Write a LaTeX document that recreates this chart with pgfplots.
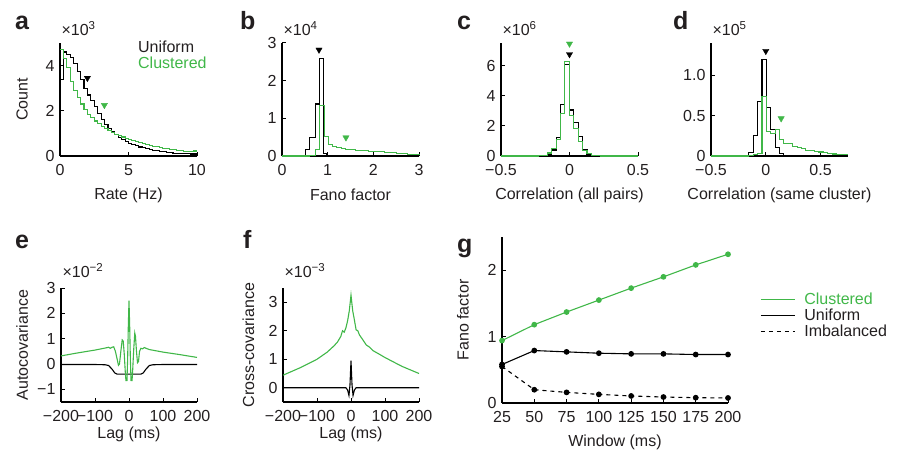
\documentclass[border=0pt]{standalone}
\usepackage{pgfplots}
\pgfplotsset{compat=1.18}
\usepackage{fontspec}
\setmainfont{Liberation Sans}
\definecolor{cgreen}{RGB}{64,183,72}
\definecolor{txt}{RGB}{35,31,32}
\newcommand{\fs}{\fontsize{16}{19}\selectfont}
\newcommand{\lett}{\fontsize{25}{29}\selectfont\bfseries}

\pgfplotsset{
  panel/.style={
    scale only axis, enlargelimits=false, clip=false,
    axis x line=bottom, axis y line=left,
    axis line style={-, line width=1.2pt, black},
    tick align=inside, major tick length=4pt,
    tick style={line width=1pt, black},
    tick label style={font=\fs, text=txt},
    xticklabel style={yshift=-5pt},
    yticklabel style={xshift=-2pt},
    label style={font=\fs, text=txt},
    /pgf/number format/assume math mode=true,
    scaled ticks=false,
    xlabel style={anchor=center},
    ylabel style={anchor=center},
  },
  toprow/.style={panel, width=137pt, height=113pt,
    xlabel style={at={(axis description cs:0.5,-0.345)}}},
  hist/.style={const plot mark left, line width=1.1pt},
  tri/.style={only marks, mark=triangle*, mark size=3.6pt, mark options={rotate=180}},
}
\newcommand{\xten}[2]{\node[anchor=base west, font=\fs, text=txt, inner sep=0pt] at (rel axis cs:0.01,#2) {×10\raisebox{0.42em}{\fontsize{11.5}{12}\selectfont #1}};}

\begin{document}
\begin{tikzpicture}
\path[use as bounding box] (0pt,0pt) rectangle (904pt,456pt);

% panel letters
\node[anchor=base west, inner sep=0pt, font=\lett, text=txt] at (15pt,426pt) {a};
\node[anchor=base west, inner sep=0pt, font=\lett, text=txt] at (240pt,426pt) {b};
\node[anchor=base west, inner sep=0pt, font=\lett, text=txt] at (457pt,426pt) {c};
\node[anchor=base west, inner sep=0pt, font=\lett, text=txt] at (673pt,426pt) {d};
\node[anchor=base west, inner sep=0pt, font=\lett, text=txt] at (15pt,208pt) {e};
\node[anchor=base west, inner sep=0pt, font=\lett, text=txt] at (243pt,208pt) {f};
\node[anchor=base west, inner sep=0pt, font=\lett, text=txt] at (457pt,204pt) {g};

% ---- a: rate
\begin{axis}[toprow, at={(60pt,300pt)},
  xmin=0, xmax=10, ymin=0, ymax=5, xtick={0,5,10}, ytick={0,2,4},
  xlabel={Rate (Hz)}, ylabel={Count},
  ylabel style={at={(axis description cs:-0.277,0.5)}}]
\addplot[hist, black] coordinates {
(0,3.4)(0.25,4.6)(0.5,4.5)(0.75,4.35)(1,4.1)(1.25,3.75)(1.5,3.4)(1.75,3.0)(2,2.7)(2.25,2.45)(2.5,2.2)(2.75,1.9)(3,1.6)(3.25,1.4)(3.5,1.22)(3.75,1.07)(4,0.94)(4.25,0.83)(4.5,0.73)(4.75,0.64)(5,0.56)(5.25,0.5)(5.5,0.45)(5.75,0.4)(6,0.36)(6.25,0.32)(6.5,0.29)(6.75,0.26)(7,0.23)(7.25,0.2)(7.5,0.18)(7.75,0.16)(8,0.15)(8.25,0.13)(8.5,0.12)(8.75,0.11)(9,0.1)(9.25,0.1)(9.5,0.09)(9.75,0.09)(10,0.09)};
\addplot[hist, cgreen] coordinates {
(0,4.7)(0.25,4.3)(0.5,3.9)(0.75,3.3)(1,2.9)(1.25,2.6)(1.5,2.3)(1.75,2.05)(2,1.85)(2.25,1.7)(2.5,1.55)(2.75,1.42)(3,1.3)(3.25,1.2)(3.5,1.12)(3.75,1.04)(4,0.97)(4.25,0.9)(4.5,0.84)(4.75,0.78)(5,0.72)(5.25,0.67)(5.5,0.63)(5.75,0.59)(6,0.55)(6.25,0.51)(6.5,0.48)(6.75,0.44)(7,0.41)(7.25,0.38)(7.5,0.35)(7.75,0.32)(8,0.3)(8.25,0.27)(8.5,0.25)(8.75,0.23)(9,0.21)(9.25,0.2)(9.5,0.18)(9.75,0.22)(10,0.22)};
\addplot[tri, black] coordinates {(2.0,3.45)};
\addplot[tri, cgreen] coordinates {(3.24,2.25)};
\xten{3}{1.062}
\node[anchor=base west, font=\fs, text=txt, inner sep=0pt] at (rel axis cs:0.569,0.912) {Uniform};
\node[anchor=base west, font=\fs, text=cgreen, inner sep=0pt] at (rel axis cs:0.569,0.77) {Clustered};
\end{axis}

% ---- b: Fano factor histogram
\begin{axis}[toprow, at={(282pt,300pt)},
  xmin=0, xmax=3, ymin=0, ymax=3, xtick={0,1,2,3}, ytick={0,1,2,3},
  xlabel={Fano factor}]
\addplot[hist, black] coordinates {
(0,0)(0.4,0.02)(0.51,0.17)(0.6,0.5)(0.726,1.38)(0.82,2.6)(0.908,0.06)(0.966,0)(3,0)};
\addplot[hist, cgreen] coordinates {
(0,0)(0.6,0.02)(0.726,0.17)(0.82,1.33)(0.922,0.52)(1.017,0.3)(1.1,0.25)(1.2,0.22)(1.3,0.2)(1.4,0.18)(1.5,0.17)(1.6,0.15)(1.75,0.14)(1.9,0.12)(2.0,0.11)(2.25,0.09)(2.5,0.07)(2.75,0.05)(3.0,0.04)};
\addplot[tri, black] coordinates {(0.81,2.82)};
\addplot[tri, cgreen] coordinates {(1.4,0.49)};
\xten{4}{1.062}
\end{axis}

% ---- c: correlation, all pairs
\begin{axis}[toprow, at={(501pt,300pt)},
  xmin=-0.5, xmax=0.5, ymin=0, ymax=7.5, xtick={-0.5,0,0.5}, xticklabels={−0.5,0,0.5},
  ytick={0,2,4,6},
  xlabel={Correlation (all pairs)}]
\addplot[hist, black] coordinates {
(-0.5,0)(-0.194,0.02)(-0.162,0.1)(-0.13,0.4)(-0.098,1.2)(-0.066,3.4)(-0.034,6.05)(0,3.05)(0.032,2.2)(0.064,1.3)(0.096,0.4)(0.128,0.1)(0.16,0.02)(0.192,0)(0.5,0)};
\addplot[hist, cgreen] coordinates {
(-0.5,0)(-0.226,0.02)(-0.194,0.05)(-0.162,0.2)(-0.13,0.5)(-0.098,1.1)(-0.066,2.8)(-0.034,6.25)(0,2.7)(0.032,1.85)(0.064,0.95)(0.096,0.35)(0.128,0.15)(0.16,0.06)(0.192,0.02)(0.224,0)(0.5,0)};
\addplot[tri, cgreen] coordinates {(0,7.45)};
\addplot[tri, black] coordinates {(0,6.75)};
\xten{6}{1.062}
\end{axis}

% ---- d: correlation, same cluster
\begin{axis}[toprow, at={(711pt,300pt)},
  xmin=-0.5, xmax=0.75, ymin=0, ymax=1.4, xtick={-0.5,0,0.5}, xticklabels={−0.5,0,0.5},
  ytick={0,0.5,1}, yticklabels={0,0.5,1.0},
  xlabel={Correlation (same cluster)}]
\addplot[hist, black] coordinates {
(-0.5,0)(-0.155,0.04)(-0.115,0.25)(-0.075,0.67)(-0.035,1.2)(0.005,0.6)(0.045,0.33)(0.085,0.11)(0.125,0.03)(0.165,0.01)(0.205,0)(0.75,0)};
\addplot[hist, cgreen] coordinates {
(-0.5,0)(-0.155,0.005)(-0.115,0.015)(-0.075,0.03)(-0.035,0.74)(0.005,0.3)(0.045,0.28)(0.085,0.33)(0.125,0.2)(0.165,0.16)(0.205,0.15)(0.245,0.12)(0.285,0.1)(0.325,0.09)(0.365,0.07)(0.405,0.065)(0.445,0.055)(0.485,0.05)(0.525,0.04)(0.565,0.035)(0.605,0.025)(0.645,0.02)(0.685,0.015)(0.75,0.015)};
\addplot[tri, black] coordinates {(0,1.3)};
\addplot[tri, cgreen] coordinates {(0.14,0.465)};
\xten{5}{1.062}
\end{axis}

% ---- e: autocovariance
\begin{axis}[panel, width=136pt, height=114pt, at={(61pt,54pt)},
  xmin=-200, xmax=200, ymin=-1.5, ymax=3,
  xtick={-200,-100,0,100,200}, xticklabels={−200,−100,0,100,200},
  ytick={-1,0,1,2,3}, yticklabels={−1,0,1,2,3},
  xlabel={Lag (ms)}, ylabel={Autocovariance},
  xlabel style={at={(axis description cs:0.5,-0.28)}},
  ylabel style={at={(axis description cs:-0.285,0.5)}}]
\addplot[black, line width=1.1pt] coordinates {
(-200,-0.02)(-100,-0.02)(-70,-0.03)(-60,-0.06)(-50,-0.2)(-42,-0.35)(-35,-0.4)(-20,-0.4)(0,-0.4)(20,-0.4)(35,-0.4)(42,-0.35)(50,-0.2)(60,-0.06)(70,-0.03)(100,-0.02)(200,-0.02)};
\addplot[cgreen, line width=1.1pt] coordinates {
(-200,0.32)(-150,0.44)(-100,0.55)(-70,0.63)(-60,0.66)(-55,0.62)(-50,0.66)(-45,0.68)(-40,0.5)(-35,0.2)(-31,-0.05)(-28,0.0)(-24,0.5)(-20,0.95)(-17,0.9)(-14,0.4)(-11,-0.3)(-9,-0.65)(-6,-0.65)(-4,0.2)(-2,1.5)(0,2.5)(2,1.5)(4,0.2)(6,-0.65)(9,-0.65)(11,-0.2)(14,0.6)(17,1.22)(19,1.1)(22,0.5)(25,0.05)(28,0.1)(31,0.5)(35,0.62)(40,0.6)(45,0.65)(50,0.62)(60,0.57)(100,0.47)(150,0.37)(200,0.26)};
\xten{−2}{1.088}
\end{axis}

% ---- f: cross-covariance
\begin{axis}[panel, width=136pt, height=114pt, at={(283pt,54pt)},
  xmin=-200, xmax=200, ymin=-0.5, ymax=3.5,
  xtick={-200,-100,0,100,200}, xticklabels={−200,−100,0,100,200},
  ytick={0,1,2,3},
  xlabel={Lag (ms)}, ylabel={Cross-covariance},
  xlabel style={at={(axis description cs:0.5,-0.28)}},
  ylabel style={at={(axis description cs:-0.255,0.5)}}]
\addplot[cgreen, line width=1.1pt] coordinates {
(-200,0.44)(-150,0.7)(-100,1.0)(-70,1.25)(-50,1.47)(-40,1.6)(-30,1.8)(-25,2.0)(-20,1.95)(-15,2.1)(-10,2.35)(-5,2.7)(0,3.25)(5,2.7)(10,2.38)(15,2.03)(20,2.0)(25,1.85)(35,1.68)(45,1.5)(55,1.42)(65,1.3)(80,1.2)(100,1.06)(150,0.75)(200,0.5)};
\addplot[black, line width=1.1pt] coordinates {
(-200,0)(-15,0)(-10,-0.08)(-6,-0.27)(-3,0.1)(0,0.95)(3,0.1)(6,-0.27)(10,-0.08)(15,0)(200,0)};
\xten{−3}{1.088}
\end{axis}

% ---- g: Fano factor vs window
\begin{axis}[panel, width=226pt, height=166pt, at={(502pt,53pt)},
  xmin=25, xmax=200, ymin=0, ymax=2.5,
  xtick={25,50,75,100,125,150,175,200}, ytick={0,1,2},
  xlabel={Window (ms)}, ylabel={Fano factor},
  xlabel style={at={(axis description cs:0.5,-0.235)}},
  ylabel style={at={(axis description cs:-0.173,0.5)}},
  legend style={at={(axis description cs:1.1416,0.666)}, anchor=north west,
    draw=none, fill=none, font=\fs, inner sep=0pt, row sep=3pt,
    cells={anchor=west}, nodes={inner sep=0pt},
    /tikz/every odd column/.append style={column sep=9pt}},
  legend image code/.code={\draw[#1, mark=none] (0pt,0pt) -- (34pt,0pt);}]
\addplot[cgreen, line width=1.1pt, mark=*, mark size=2.3pt] coordinates {
(25,0.94)(50,1.18)(75,1.37)(100,1.55)(125,1.73)(150,1.9)(175,2.08)(200,2.24)};
\addlegendentry{\textcolor{cgreen}{Clustered}}
\addplot[black, line width=1.1pt, mark=*, mark size=2.3pt] coordinates {
(25,0.58)(50,0.79)(75,0.77)(100,0.75)(125,0.74)(150,0.74)(175,0.73)(200,0.73)};
\addlegendentry{\textcolor{txt}{Uniform}}
\addplot[black, line width=1.1pt, dash pattern=on 4pt off 4pt, mark=*, mark size=2.3pt, mark options={solid}] coordinates {
(25,0.55)(50,0.2)(75,0.16)(100,0.13)(125,0.106)(150,0.09)(175,0.08)(200,0.076)};
\addlegendentry{\textcolor{txt}{Imbalanced}}
\end{axis}
\end{tikzpicture}
\end{document}
